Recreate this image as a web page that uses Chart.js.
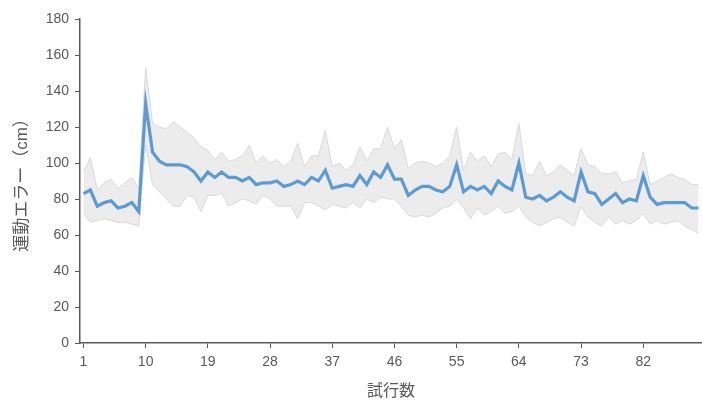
<!DOCTYPE html>
<html>
<head>
<meta charset="utf-8">
<script src="https://cdn.jsdelivr.net/npm/chart.js@4/dist/chart.umd.min.js"></script>
<style>
  html, body { margin: 0; padding: 0; background: #ffffff; }
  #wrap { width: 702px; height: 401px; position: relative; }
</style>
</head>
<body>
<div id="wrap"><canvas id="c"></canvas></div>
<script>
// Trial numbers 1..90
const trials = [
  1,2,3,4,5,6,7,8,9,10,11,12,13,14,15,16,17,18,19,20,
  21,22,23,24,25,26,27,28,29,30,31,32,33,34,35,36,37,38,39,40,
  41,42,43,44,45,46,47,48,49,50,51,52,53,54,55,56,57,58,59,60,
  61,62,63,64,65,66,67,68,69,70,71,72,73,74,75,76,77,78,79,80,
  81,82,83,84,85,86,87,88,89,90
];

// Mean movement error (cm) per trial
const meanError = [
  83,85,76,78,79,75,76,78,73,133,
  106,101,99,99,99,98,95,90,95,92,
  95,92,92,90,92,88,89,89,90,87,
  88,90,88,92,90,96,86,87,88,87,
  93,88,95,92,99,91,91,82,85,87,
  87,85,84,87,99,84,87,85,87,83,
  90,87,85,100,81,80,82,79,81,84,
  81,79,95,84,83,77,80,83,78,80,
  79,93,81,77,78,78,78,78,75,75
];

// Upper edge of the spread band
const upperBand = [
  95,103,85,89,91,86,89,92,86,153,
  122,120,119,123,120,117,114,109,107,102,
  106,101,102,104,110,100,104,100,102,98,
  101,111,98,104,104,118,98,100,96,99,
  109,101,108,108,120,108,113,97,100,101,
  100,98,100,104,120,96,106,101,104,98,
  105,106,102,122,94,93,101,93,95,99,
  96,93,108,99,98,94,94,95,89,90,
  91,106,88,90,92,94,92,91,88,88
];

// Lower edge of the spread band
const lowerBand = [
  72,67,68,69,68,67,67,66,65,110,
  88,84,80,76,76,82,81,73,82,82,
  83,76,78,80,79,77,82,80,76,76,
  76,69,78,78,76,74,77,76,75,78,
  75,80,78,81,80,80,76,71,70,71,
  70,72,75,76,80,75,69,75,71,73,
  76,72,73,76,70,67,65,67,69,70,
  67,65,76,70,67,65,70,66,68,66,
  68,72,66,68,66,67,68,65,63,61
];

// Labelled x positions: every 9th trial
const xTickEvery = 9;
const yTicks = { min: 0, max: 180, step: 20 };

const textColor = '#595959';
const axisColor = '#595959';
const fontFamily = '"Liberation Sans", Arial, "Noto Sans CJK JP", sans-serif';

new Chart(document.getElementById('c'), {
  type: 'line',
  data: {
    labels: trials.map(String),
    datasets: [
      {
        label: '平均',
        data: meanError,
        borderColor: '#5b9bd5',
        borderWidth: 3.2,
        pointRadius: 0,
        tension: 0,
        fill: false
      },
      {
        label: '上限',
        data: upperBand,
        borderColor: '#d9d9d9',
        borderWidth: 1,
        backgroundColor: '#ececec',
        pointRadius: 0,
        tension: 0,
        fill: '+1'
      },
      {
        label: '下限',
        data: lowerBand,
        borderColor: '#d9d9d9',
        borderWidth: 1,
        pointRadius: 0,
        tension: 0,
        fill: false
      }
    ]
  },
  options: {
    responsive: true,
    maintainAspectRatio: false,
    animation: false,
    layout: { padding: { top: 19, right: 0, left: 0, bottom: 0 } },
    plugins: {
      legend: { display: false },
      tooltip: { enabled: false },
      filler: { drawTime: 'beforeDatasetsDraw' }
    },
    scales: {
      x: {
        type: 'category',
        offset: true,
        afterBuildTicks: (scale) => {
          scale.ticks = scale.ticks.filter((t, i) => i % xTickEvery === 0);
        },
        afterFit: (scale) => { scale.height = 58; },
        grid: {
          display: true,
          drawOnChartArea: false,
          offset: false,
          tickLength: 5,
          color: axisColor,
          lineWidth: 1
        },
        border: { display: true, color: axisColor, width: 1.5 },
        ticks: {
          autoSkip: false,
          maxRotation: 0,
          padding: 6,
          color: textColor,
          font: { family: fontFamily, size: 14 }
        },
        title: {
          display: true,
          text: '試行数',
          color: textColor,
          padding: { top: 14, bottom: 0 },
          font: { family: fontFamily, size: 16 }
        }
      },
      y: {
        min: yTicks.min,
        max: yTicks.max,
        afterFit: (scale) => { scale.width = 80; },
        grid: {
          display: true,
          drawOnChartArea: false,
          tickLength: 5,
          color: axisColor,
          lineWidth: 1
        },
        border: { display: true, color: axisColor, width: 1.5 },
        ticks: {
          stepSize: yTicks.step,
          padding: 6,
          color: textColor,
          font: { family: fontFamily, size: 14 }
        },
        title: {
          display: true,
          text: '運動エラー（cm）',
          color: textColor,
          padding: { top: 12, bottom: 0 },
          font: { family: fontFamily, size: 17 }
        }
      }
    }
  }
});
</script>
</body>
</html>
